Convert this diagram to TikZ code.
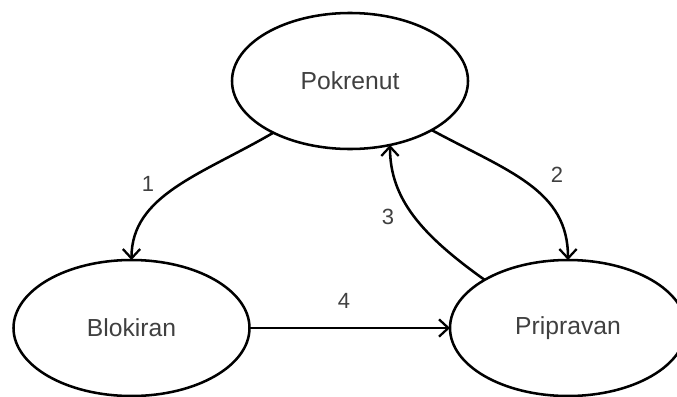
\documentclass[tikz,border=0pt]{standalone}
\usepackage{fontspec}
\setmainfont{Liberation Sans}
\usetikzlibrary{shapes.geometric,arrows.meta}
\definecolor{txt}{HTML}{404040}
\begin{document}
\begin{tikzpicture}[x=0.75pt,y=-0.75pt,
  state/.style={ellipse,draw=black,line width=1.9pt,minimum width=177pt,minimum height=102pt,
    inner sep=0pt,outer sep=0pt,text=txt,font=\fontsize{18.5}{21}\selectfont},
  conn/.style={line width=1.9pt,-{Straight Barb[length=7pt,width=13pt,line width=1.7pt]}},
  lbl/.style={text=txt,font=\fontsize{16.5}{19}\selectfont,inner sep=0pt}]
\useasboundingbox (0,0) rectangle (677,396);
\node[state] (pok) at (350,81) {Pokrenut};
\node[state] (blo) at (131.5,328) {Blokiran};
\node[state] (pri) at (568,328) {Pripravan};
\draw[conn] (pok.214) .. controls +(-72,42) and +(0,-65) .. (blo.90);
\draw[conn] (pok.329) .. controls +(78,42) and +(0,-70) .. (pri.90);
\draw[conn] (pri.150.5) .. controls +(-63,-45) and +(0,54) .. (pok.302);
\draw[conn] (blo.0) -- (pri.180);
\node[lbl] (l1) at (148,184) {1};
\node[lbl] (l2) at (557,175) {2};
\node[lbl] (l3) at (388,217) {3};
\node[lbl] (l4) at (344,301) {4};
\end{tikzpicture}
\end{document}
